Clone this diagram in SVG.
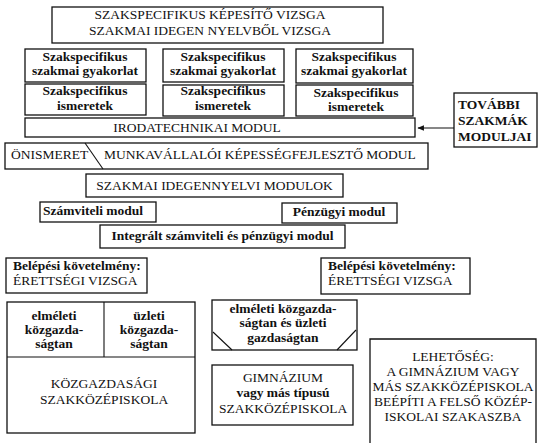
<svg xmlns="http://www.w3.org/2000/svg" width="544" height="443" viewBox="0 0 544 443">
<defs>
<style>
.box{fill:none;stroke:#111;stroke-width:1.3}
.ln{fill:none;stroke:#111;stroke-width:1.1}
text{font-family:"Liberation Serif","Times New Roman",serif;font-size:13.5px;fill:#111}
.c{text-anchor:middle}
.b{font-weight:bold}
</style>
<marker id="ah" viewBox="0 0 10 10" refX="9" refY="5" markerWidth="6" markerHeight="6" orient="auto">
<path d="M0,1 L10,5 L0,9 z" fill="#111"/>
</marker>
</defs>
<rect width="544" height="443" fill="#fff"/>

<g id="n-kepesito">
<rect class="box" x="52" y="7" width="331" height="36"/>
<text class="c" x="210" y="19">SZAKSPECIFIKUS KÉPESÍTŐ VIZSGA</text>
<text class="c" x="210" y="35">SZAKMAI IDEGEN NYELVBŐL VIZSGA</text>
</g>

<g id="n-gyak1">
<rect class="box" x="25" y="49" width="121" height="33"/>
<text class="c b" x="85" y="61">Szakspecifikus</text>
<text class="c b" x="85" y="75">szakmai gyakorlat</text>
</g>
<g id="n-gyak2">
<rect class="box" x="163" y="49" width="121" height="33"/>
<text class="c b" x="223" y="61">Szakspecifikus</text>
<text class="c b" x="223" y="75">szakmai gyakorlat</text>
</g>
<g id="n-gyak3">
<rect class="box" x="296" y="49" width="117" height="34"/>
<text class="c b" x="354" y="61">Szakspecifikus</text>
<text class="c b" x="354" y="75">szakmai gyakorlat</text>
</g>

<g id="n-ism1">
<rect class="box" x="25" y="84" width="121" height="31"/>
<text class="c b" x="85" y="95">Szakspecifikus</text>
<text class="c b" x="85" y="110">ismeretek</text>
</g>
<g id="n-ism2">
<rect class="box" x="163" y="85" width="121" height="31"/>
<text class="c b" x="223" y="95">Szakspecifikus</text>
<text class="c b" x="223" y="110">ismeretek</text>
</g>
<g id="n-ism3">
<rect class="box" x="296" y="85" width="117" height="31"/>
<text class="c b" x="356" y="97">Szakspecifikus</text>
<text class="c b" x="356" y="111">ismeretek</text>
</g>

<g id="n-iroda">
<rect class="box" x="25" y="118" width="390" height="19"/>
<text class="c" x="197" y="132">IRODATECHNIKAI MODUL</text>
</g>

<g id="n-tovabbi">
<rect class="box" x="454" y="93" width="83" height="54"/>
<text class="b" x="458" y="109">TOVÁBBI</text>
<text class="b" x="458" y="125">SZAKMÁK</text>
<text class="b" x="458" y="141">MODULJAI</text>
</g>

<g id="n-onismeret">
<rect class="box" x="5" y="143" width="423" height="26"/>
<line class="ln" x1="85" y1="143" x2="103" y2="169"/>
<text x="11" y="159">ÖNISMERET</text>
<text x="104" y="159">MUNKAVÁLLALÓI KÉPESSÉGFEJLESZTŐ MODUL</text>
</g>

<g id="n-idegennyelv">
<rect class="box" x="86" y="174" width="257" height="23"/>
<text class="c" x="214.5" y="190">SZAKMAI IDEGENNYELVI MODULOK</text>
</g>

<g id="n-szamviteli">
<rect class="box" x="40" y="202" width="116" height="20"/>
<text class="b" x="43" y="215">Számviteli modul</text>
</g>
<g id="n-penzugyi">
<rect class="box" x="282" y="203" width="115" height="20"/>
<text class="c b" x="339" y="216">Pénzügyi modul</text>
</g>
<g id="n-integralt">
<rect class="box" x="100" y="225" width="245" height="23"/>
<text class="c b" x="222.5" y="240">Integrált számviteli és pénzügyi modul</text>
</g>

<g id="n-belepes1">
<rect class="box" x="6" y="258" width="141" height="35"/>
<text class="b" x="13" y="270">Belépési követelmény:</text>
<text x="13" y="285">ÉRETTSÉGI VIZSGA</text>
</g>
<g id="n-belepes2">
<rect class="box" x="321" y="258" width="149" height="36"/>
<text class="b" x="328" y="270">Belépési követelmény:</text>
<text x="328" y="285">ÉRETTSÉGI VIZSGA</text>
</g>

<g id="n-kozgazdasagi">
<rect class="box" x="7" y="302" width="188" height="131"/>
<line class="ln" x1="104" y1="302" x2="104" y2="357"/>
<line class="ln" x1="7" y1="357" x2="195" y2="357"/>
<text class="c b" x="54" y="320">elméleti</text>
<text class="c b" x="54" y="334">közgazda-</text>
<text class="c b" x="54" y="348">ságtan</text>
<text class="c b" x="149" y="320">üzleti</text>
<text class="c b" x="149" y="334">közgazda-</text>
<text class="c b" x="149" y="348">ságtan</text>
<text class="c" x="104" y="388">KÖZGAZDASÁGI</text>
<text class="c" x="104" y="404">SZAKKÖZÉPISKOLA</text>
</g>

<g id="n-elmeleti-uzleti">
<rect class="box" x="212" y="300" width="145" height="50"/>
<line class="ln" x1="213" y1="332" x2="232" y2="350"/>
<line class="ln" x1="356" y1="330" x2="337" y2="350"/>
<text class="c b" x="283" y="313">elméleti közgazda-</text>
<text class="c b" x="283" y="327">ságtan és üzleti</text>
<text class="c b" x="283" y="342">gazdaságtan</text>
</g>

<g id="n-gimnazium">
<rect class="box" x="212" y="365" width="141" height="60"/>
<text class="c" x="283" y="382">GIMNÁZIUM</text>
<text class="c b" x="283" y="397">vagy más típusú</text>
<text class="c" x="283" y="413">SZAKKÖZÉPISKOLA</text>
</g>

<g id="n-lehetoseg">
<path class="box" d="M370,445 L370,339 L536,339 L536,445"/>
<text class="c" x="453" y="361">LEHETŐSÉG:</text>
<text class="c" x="453" y="376">A GIMNÁZIUM VAGY</text>
<text class="c" x="453" y="391">MÁS SZAKKÖZÉPISKOLA</text>
<text class="c" x="453" y="406">BEÉPÍTI A FELSŐ KÖZÉP-</text>
<text class="c" x="453" y="421">ISKOLAI SZAKASZBA</text>
</g>

<g id="connectors">
<line class="ln" x1="454" y1="128" x2="418" y2="128" marker-end="url(#ah)"/>
</g>
</svg>
